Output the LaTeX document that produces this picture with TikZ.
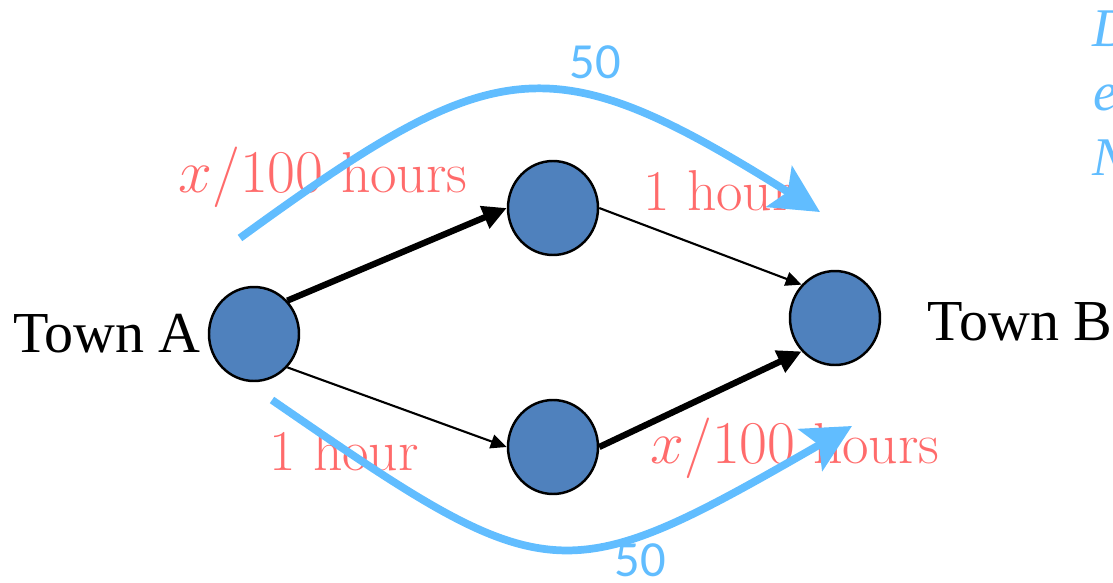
\documentclass[tikz,border=0pt]{standalone}
\usepackage{fontspec}
\newfontfamily\timesfont{Liberation Serif}
\newfontfamily\calibrifont{Carlito}
\usepackage{tikz}
\usetikzlibrary{arrows.meta,shapes,positioning,calc}
\definecolor{nodeblue}{RGB}{79,129,189}
\definecolor{flowblue}{RGB}{97,189,255}
\definecolor{costred}{RGB}{255,107,107}

\begin{document}
\begin{tikzpicture}[
    town/.style={ellipse, draw=black, line width=0.7pt, fill=nodeblue, minimum width=0.9cm, minimum height=0.94cm, inner sep=0pt},
    heavy/.style={line width=1.8pt, -{Triangle[length=2.4mm,width=2.3mm]}},
    light/.style={line width=0.6pt, -{Triangle[length=1.6mm,width=1.4mm]}},
    cost/.style={text=costred, font=\fontsize{16.4}{19}\selectfont, anchor=base},
    flow/.style={flowblue, line width=2.2pt, -{Stealth[length=4.8mm,width=4.8mm,inset=1mm]}},
    load/.style={text=flowblue, font=\calibrifont\fontsize{14.4}{17}\selectfont},
    placename/.style={font=\timesfont\fontsize{16.5}{20}\selectfont, anchor=base},
    cutword/.style={text=flowblue, font=\timesfont\itshape\fontsize{15.5}{18}\selectfont, anchor=base west, inner sep=0pt}
]
    \useasboundingbox (0,0) rectangle (11.13,5.82);

    % the four towns
    \node[town] (A) at (2.54,2.48) {};
    \node[town] (T) at (5.53,3.74) {};
    \node[town] (M) at (5.53,1.35) {};
    \node[town] (B) at (8.35,2.64) {};
    \node[placename] (nameA) at (1.07,2.30) {Town A};
    \node[placename] (nameB) at (10.20,2.42) {Town B};

    % roads
    \draw[heavy] (A.45) -- (T.west);
    \draw[light] (T.east) -- (B.135);
    \draw[light] (A.-45) -- (M.west);
    \draw[heavy] (M.east) -- (B.-135);

    % travel times
    \node[cost] (tAT) at (3.23,3.90) {$x/100$ hours};
    \node[cost] (tTB) at (7.18,3.72) {1 hour};
    \node[cost] (tAM) at (3.44,1.12) {1 hour};
    \node[cost] (tMB) at (7.95,1.19) {$x/100$ hours};

    % traffic split
    \coordinate (upS) at (2.40,3.44);
    \coordinate (upE) at (8.20,3.70);
    \coordinate (lowS) at (2.72,1.82);
    \coordinate (lowE) at (8.52,1.56);
    \draw[flow] (upS) .. controls (4.97,5.31) and (5.50,5.39) .. (upE);
    \draw[flow] (lowS) .. controls (5.49,-0.09) and (5.60,-0.12) .. (lowE);
    \node[load] (nUp) at (5.95,5.20) {50};
    \node[load] (nLow) at (6.40,0.22) {50};

    % cut-off text at the right edge
    \node[cutword] (wD) at (10.92,5.36) {D};
    \node[cutword] (wE) at (10.93,4.72) {e};
    \node[cutword] (wN) at (10.92,4.07) {N};
\end{tikzpicture}
\end{document}
